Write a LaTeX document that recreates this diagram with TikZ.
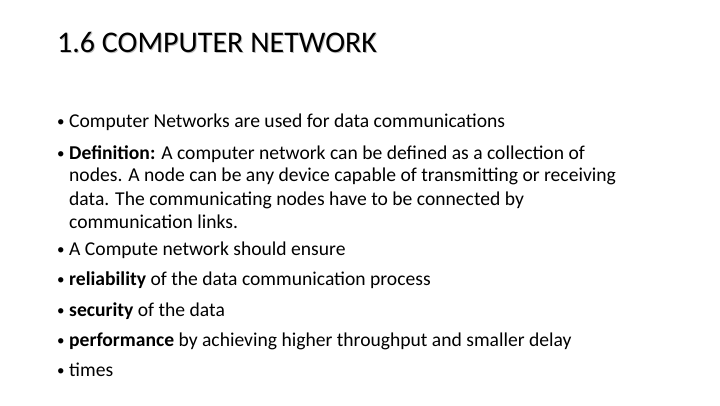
\documentclass[tikz,border=0pt]{standalone}
\usepackage{fontspec}
\setmainfont{Carlito}
\usepackage{tikz}
\usetikzlibrary{positioning}
\begin{document}
\begin{tikzpicture}[x=1pt, y=1pt, every node/.style={inner sep=0pt, anchor=base west}]
	\useasboundingbox (0,0) rectangle (720,405);
	\tikzset{bullet/.style={font=\fontsize{19.6}{23}\selectfont},
		dot/.style={font=\fontsize{15}{18}\selectfont},
		title/.style={font=\fontsize{30}{34}\selectfont}}
	% title with a light shadow
	\node[title, gray!50] at (58,351) {1.6 COMPUTER NETWORK};
	\node[title] (title) at (57,352) {1.6 COMPUTER NETWORK};
	% bullet points
	\foreach \y in {277,246,150,120,89,59,29}
		\node[dot] at (57,\y+1) {•};
	\node[bullet] (p1) at (69,277) {Computer Networks are used for data communications};
	\node[bullet] (p2a) at (69,246) {\textbf{Definition:} A computer network can be defined as a collection of};
	\node[bullet] (p2b) at (69,223) {nodes. A node can be any device capable of transmitting or receiving};
	\node[bullet] (p2c) at (69,200) {data. The communicating nodes have to be connected by};
	\node[bullet] (p2d) at (69,177) {communication links.};
	\node[bullet] (p3) at (69,150) {A Compute network should ensure};
	\node[bullet] (p4) at (69,120) {\textbf{reliability} of the data communication process};
	\node[bullet] (p5) at (69,89) {\textbf{security} of the data};
	\node[bullet] (p6) at (69,59) {\textbf{performance} by achieving higher throughput and smaller delay};
	\node[bullet] (p7) at (69,29) {times};
\end{tikzpicture}
\end{document}
